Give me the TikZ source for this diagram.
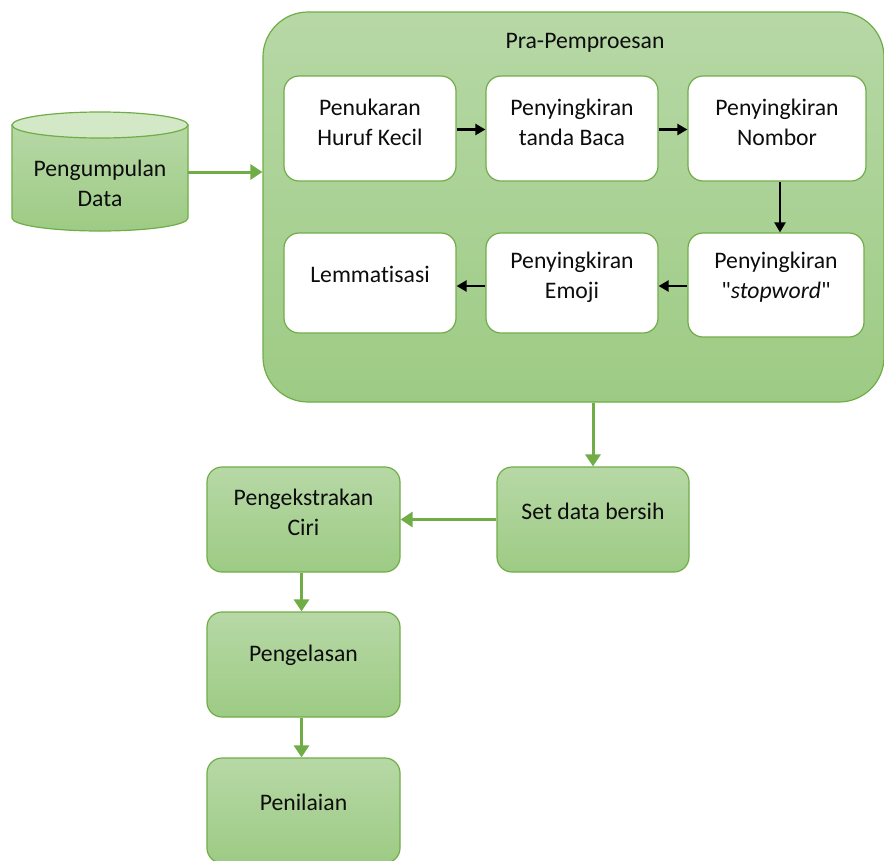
\documentclass[tikz,border=0pt]{standalone}
\usepackage{fontspec}
\setmainfont{Carlito}[Ligatures=NoCommon]
\newfontfamily\qfont{Carlito}[Ligatures=TeXOff]
\usetikzlibrary{arrows.meta,calc}
\definecolor{gborder}{HTML}{70AD47}
\definecolor{gtop}{HTML}{B7D8A6}
\definecolor{gbot}{HTML}{9DCB84}
\definecolor{gcap}{HTML}{D2E8C6}
\definecolor{txtc}{HTML}{0D0D0D}
\tikzset{
  gbox/.style={draw=gborder, line width=1.2pt, rounded corners=15pt, top color=gtop, bottom color=gbot, inner sep=0pt},
  wbox/.style={draw=gborder, line width=1.2pt, rounded corners=15pt, fill=white, inner sep=0pt, minimum width=172pt, minimum height=105pt},
  txt/.style={font=\fontsize{23.7}{30}\selectfont, text=txtc, align=center, inner sep=0pt},
  garrow/.style={draw=gborder, line width=3pt, -{Triangle[width=15pt,length=12pt]}},
  karrow/.style={draw=black, line width=2.2pt, -{Triangle[width=11pt,length=10pt]}},
}
\begin{document}
\begin{tikzpicture}[x=1pt,y=-1pt]
\useasboundingbox (0,0) rectangle (884,860);
% big pre-processing box
\node[gbox, rounded corners=45pt, minimum width=621pt, minimum height=390pt] (pre) at (573.5,207) {};
\node[txt] (pretitle) at (585,43) {Pra-Pemproesan};
% cylinder
\path[draw=gborder, line width=1.2pt, top color=gtop, bottom color=gbot]
  (12,125) -- (12,218) arc[start angle=180, end angle=0, x radius=88, y radius=13] -- (188,125) -- cycle;
\path[draw=gborder, line width=1.2pt, fill=gcap] (100,125) ellipse[x radius=88, y radius=13];
\node[minimum width=176pt, minimum height=90pt, inner sep=0pt] (db) at (100,172) {};
\node[txt] (dbtext) at (100,183) {Pengumpulan\\Data};
% inner white boxes
\node[wbox] (b1) at (370,128.5) {};
\node[wbox] (b2) at (572,128.5) {};
\node[wbox, minimum width=178pt] (b3) at (777,128.5) {};
\node[wbox, minimum height=100pt] (b4) at (370,283) {};
\node[wbox, minimum height=100pt] (b5) at (572,283) {};
\node[wbox, minimum width=176pt, minimum height=104pt] (b6) at (776,285) {};
\node[txt] (t1) at (370,122) {Penukaran\\Huruf Kecil};
\node[txt] (t2) at (572,122) {Penyingkiran\\tanda Baca};
\node[txt] (t3) at (777,122) {Penyingkiran\\Nombor};
\node[txt] (t4) at (370,274) {Lemmatisasi};
\node[txt] (t5) at (572,277) {Penyingkiran\\Emoji};
\node[txt] (t6) at (776,277) {Penyingkiran\\{\qfont"}\textit{stopword}{\qfont"}};
% lower green boxes
\node[gbox, minimum width=192pt, minimum height=105pt] (sd) at (593,519.5) {};
\node[txt] (sdt) at (593,511) {Set data bersih};
\node[gbox, minimum width=193pt, minimum height=105pt] (pc) at (303.5,519.5) {};
\node[txt] (pct) at (303.5,512) {Pengekstrakan\\Ciri};
\node[gbox, minimum width=193pt, minimum height=105pt] (pg) at (303.5,664.5) {};
\node[txt] (pgt) at (303.5,655) {Pengelasan};
\node[gbox, minimum width=193pt, minimum height=105pt] (pn) at (303.5,810.5) {};
\node[txt] (pnt) at (303.5,802) {Penilaian};
% black arrows
\draw[karrow] ($(b1.east)+(0,1)$) -- ($(b2.west)+(0,1)$);
\draw[karrow] ($(b2.east)+(0,1)$) -- ($(b3.west)+(0,1)$);
\draw[karrow] (b3.south -| 780,0) -- (b6.north -| 780,0);
\draw[karrow] (b6.west |- b5.east) ++(0,3) -- ($(b5.east)+(0,3)$);
\draw[karrow] ($(b5.west)+(0,3)$) -- ($(b4.east)+(0,3)$);
% green arrows
\draw[garrow] (db.east) -- (db.east -| pre.west);
\draw[garrow] (sd.north |- pre.south) -- (sd.north);
\draw[garrow] (sd.west) -- (pc.east);
\draw[garrow] ($(pc.south)+(-2,0)$) -- ($(pg.north)+(-2,0)$);
\draw[garrow] ($(pg.south)+(-2,0)$) -- ($(pn.north)+(-2,0)$);
\end{tikzpicture}
\end{document}
